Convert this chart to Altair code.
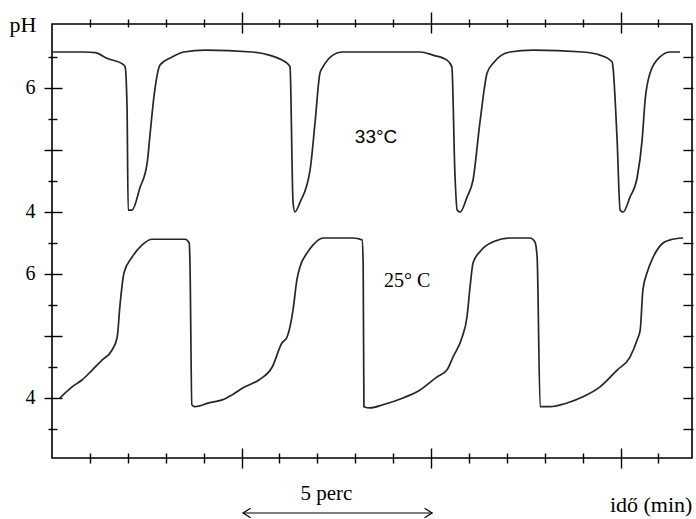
import altair as alt
import pandas as pd

# ---- data ----
# 33 °C trace (time in min, pH)
top_t = [0.00, 0.87, 1.14, 1.45, 1.90, 1.93, 1.98, 2.01, 2.11, 2.32, 2.51, 2.59, 2.69, 2.85, 3.17, 3.48, 4.04,
         5.28, 5.73, 6.07, 6.20, 6.28, 6.36, 6.41, 6.54, 6.81, 6.94, 7.07, 7.15, 7.41, 7.65,
         9.71, 10.05, 10.42, 10.55, 10.63, 10.69, 10.77, 10.95, 11.11, 11.29, 11.48, 11.64, 12.08, 12.69,
         14.01, 14.46, 14.78, 14.80, 14.91, 14.99, 15.07, 15.25, 15.44, 15.57, 15.65, 15.78, 16.04, 16.31, 16.57]
top_ph = [6.58, 6.58, 6.57, 6.48, 6.37, 6.34, 5.69, 4.03, 4.03, 4.39, 4.79, 5.27, 5.86, 6.37, 6.50, 6.58, 6.61,
          6.58, 6.53, 6.45, 6.40, 6.34, 4.15, 4.00, 4.15, 4.68, 5.44, 6.24, 6.34, 6.53, 6.58,
          6.58, 6.53, 6.45, 6.34, 4.63, 4.03, 4.00, 4.24, 4.52, 5.44, 6.24, 6.40, 6.58, 6.61,
          6.58, 6.53, 6.42, 6.34, 5.16, 4.03, 4.00, 4.24, 4.56, 5.16, 5.81, 6.24, 6.50, 6.58, 6.58]

# 25 °C trace
bot_t = [0.21, 0.53, 0.79, 1.06, 1.32, 1.58, 1.72, 1.79, 1.90, 2.11, 2.38, 2.64, 3.51, 3.62, 3.64, 3.69, 3.77,
         4.14, 4.49, 4.75, 5.09, 5.46, 5.81, 6.07, 6.20, 6.36, 6.46, 6.54, 6.73, 6.89, 7.15, 7.94, 8.18, 8.21,
         8.23, 8.39, 8.73, 9.26, 9.71, 10.16, 10.42, 10.58, 10.82, 10.95, 11.03, 11.11, 11.29, 11.64, 12.08,
         12.61, 12.74, 12.80, 12.88, 13.14, 13.59, 14.01, 14.46, 14.91, 15.25, 15.44, 15.52, 15.59, 15.70,
         15.86, 16.12, 16.31, 16.65]
bot_ph = [4.00, 4.18, 4.29, 4.45, 4.61, 4.77, 4.98, 5.47, 6.02, 6.27, 6.47, 6.56, 6.56, 6.50, 6.18, 3.89, 3.86,
          3.92, 3.97, 4.05, 4.18, 4.29, 4.50, 4.89, 4.98, 5.42, 5.90, 6.11, 6.34, 6.47, 6.58, 6.58, 6.55, 6.18,
          3.86, 3.84, 3.89, 4.00, 4.13, 4.34, 4.45, 4.66, 4.98, 5.31, 5.79, 6.18, 6.36, 6.52, 6.58,
          6.58, 6.52, 6.27, 3.86, 3.86, 3.92, 4.02, 4.18, 4.45, 4.66, 4.94, 5.10, 5.74, 6.02,
          6.27, 6.50, 6.55, 6.58]

# tick values / labels
y_major = [4, 5, 6, 7, 8, 9]
y_minor = [3.5, 4.5, 5.5, 6.5, 7.5, 8.5, 9.5]
y_label_vals = [4, 6, 7, 9]
y_label_txt = ["4", "6", "4", "6"]
x_major = [5, 10, 15]
x_minor = [1, 2, 3, 4, 6, 7, 8, 9, 11, 12, 13, 14, 16]

PH_OFFSET = 3.0  # upper trace drawn 3 pH units higher on the shared axis

df_top = pd.DataFrame({"t": top_t, "ph": [p + PH_OFFSET for p in top_ph]})
df_bot = pd.DataFrame({"t": bot_t, "ph": bot_ph})

xs = alt.Scale(domain=[0, 16.886], nice=False, zero=False)
ys = alt.Scale(domain=[3.032, 10.032], nice=False, zero=False)

label_expr = " : ".join(
    [f"datum.value == {v} ? '{t}'" for v, t in zip(y_label_vals, y_label_txt)]
) + " : ''"


def ax(orient, values, size, offset, **kw):
    return alt.Axis(orient=orient, values=values, tickSize=size, offset=offset,
                    domain=False, grid=False, title="", ticks=True,
                    tickColor="black", tickWidth=1.4, **kw)


def line(df, xaxis, yaxis, opacity=1.0):
    return alt.Chart(df).mark_line(color="#262626", strokeWidth=1.7, opacity=opacity, clip=True,
                                   interpolate="monotone").encode(
        x=alt.X("t:Q", scale=xs, axis=xaxis),
        y=alt.Y("ph:Q", scale=ys, axis=yaxis),
    )


layer_a = line(
    df_top,
    ax("bottom", x_major, 20, -10, labels=False),
    ax("left", y_major, 18, -10, labels=True, labelExpr=label_expr, labelPadding=9,
       labelFont="Liberation Serif", labelFontSize=20, labelColor="black", labelAlign="right",
       labelBaseline="middle"),
)
layer_b = line(
    df_bot,
    ax("bottom", x_minor, 10, -5, labels=False),
    ax("left", y_minor, 9, -5, labels=False),
)
layer_c = line(
    df_top,
    ax("top", x_major, 21, -9, labels=False),
    ax("right", y_major + y_minor, 10, -9, labels=False),
    opacity=0.0,
)
layer_d = line(
    df_top,
    ax("top", x_minor, 8, -3, labels=False),
    None,
    opacity=0.0,
)

ann = pd.DataFrame({
    "t": [8.55, 9.37, 7.24, 14.72, -0.77],
    "ph": [8.21, 5.89, 2.45, 2.27, 10.02],
    "txt": ["33°C", "25° C", "5 perc", "idő (min)", "pH"],
})


def text(i, font, size, align="center"):
    return alt.Chart(ann.iloc[[i]]).mark_text(font=font, fontSize=size, color="black",
                                              align=align, baseline="middle").encode(
        x=alt.X("t:Q", scale=xs, axis=None),
        y=alt.Y("ph:Q", scale=ys, axis=None),
        text="txt:N",
    )


arrow = pd.DataFrame({"t0": [5.04], "t1": [10.03], "y": [2.145]})
arrow_line = alt.Chart(arrow).mark_rule(color="black", strokeWidth=1.2).encode(
    x=alt.X("t0:Q", scale=xs, axis=None), x2="t1:Q",
    y=alt.Y("y:Q", scale=ys, axis=None),
)
heads = pd.DataFrame({"t": [5.04, 10.03], "y": [2.145, 2.145], "side": ["l", "r"]})
head_l = alt.Chart(heads.iloc[[0]]).mark_point(shape="M 1.6 -1 L 0 0 L 1.6 1", filled=False,
                                                color="black", strokeWidth=1.2, size=90, opacity=1).encode(
    x=alt.X("t:Q", scale=xs, axis=None), y=alt.Y("y:Q", scale=ys, axis=None))
head_r = alt.Chart(heads.iloc[[1]]).mark_point(shape="M -1.6 -1 L 0 0 L -1.6 1", filled=False,
                                                color="black", strokeWidth=1.2, size=90, opacity=1).encode(
    x=alt.X("t:Q", scale=xs, axis=None), y=alt.Y("y:Q", scale=ys, axis=None))

chart = alt.layer(
    layer_a, layer_b, layer_c, layer_d,
    text(0, "Liberation Sans", 19),
    text(1, "Liberation Serif", 20),
    text(2, "Liberation Serif", 21),
    text(3, "Liberation Serif", 22, align="left"),
    text(4, "Liberation Serif", 22),
    arrow_line, head_l, head_r,
).resolve_scale(x="shared", y="shared").resolve_axis(x="independent", y="independent").properties(
    width=640, height=434,
    autosize=alt.AutoSizeParams(type="none"),
    padding={"left": 52, "top": 24, "right": 4, "bottom": 61},
    background="white",
).configure_view(stroke="black", strokeWidth=1.6)

chart.save("out.html", embed_options={"renderer": "svg", "actions": False})
